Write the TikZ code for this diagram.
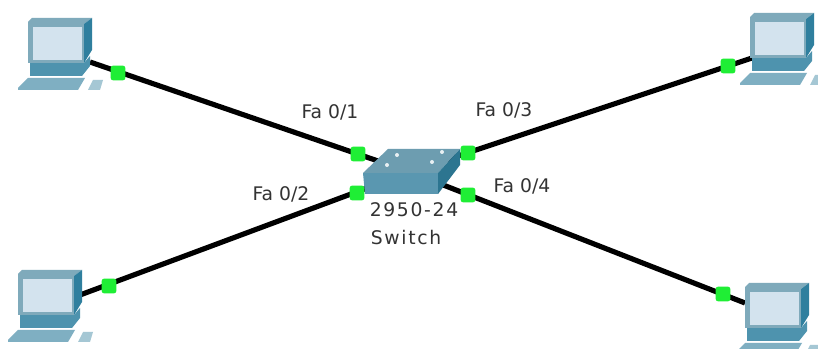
\documentclass[tikz,border=0pt]{standalone}
\usepackage{fontspec}
\setmainfont{DejaVu Sans}
\newfontfamily\devfont[LetterSpace=9]{DejaVu Sans}
\usepackage{xcolor}
\definecolor{pcedge}{HTML}{7FAABB}
\definecolor{pcside}{HTML}{2F7F9E}
\definecolor{pcscreen}{HTML}{D3E3EE}
\definecolor{pcbase}{HTML}{4E93AE}
\definecolor{pckeys}{HTML}{7FAFC2}
\definecolor{swtop}{HTML}{6D9DB0}
\definecolor{swfront}{HTML}{5A97B0}
\definecolor{swside}{HTML}{2C7590}
\definecolor{portgreen}{HTML}{1FEE35}
\definecolor{labelgrey}{HTML}{333333}
\tikzset{
  link/.style={black, line width=4.4pt},
  port/.style={fill=portgreen, rounded corners=2pt, minimum size=12.5pt, inner sep=0pt},
  portlabel/.style={text=labelgrey, font=\fontsize{16}{18}\selectfont, inner sep=0pt},
  devlabel/.style={text=labelgrey, font=\fontsize{16}{18}\selectfont\devfont, inner sep=0pt},
  pics/pcicon/.style={code={
    \fill[pckeys] (-10,70) -- (0,60) -- (57,60) -- (50,72) -- (-10,72) -- cycle;
    \fill[pckeys!70] (60,72) -- (65,62) -- (75,62) -- (72,72) -- cycle;
    \fill[pcbase] (2,45) -- (56,45) -- (62,38) -- (62,48) -- (54,58) -- (2,58) -- cycle;
    \fill[pcedge] (0,4) -- (4,0) -- (64,0) -- (56,6) -- (56,45) -- (0,45) -- cycle;
    \fill[pcside] (56,6) -- (64,0) -- (64,32) -- (56,45) -- cycle;
    \fill[pcscreen] (5,9) -- (54,9) -- (54,42) -- (5,42) -- cycle;
  }},
  pics/switchicon/.style={code={
    \fill[swfront] (-47,1) -- (28,1) -- (28,22) -- (-45,22) -- cycle;
    \fill[swtop] (-47,1) -- (-22,-23) -- (50,-23) -- (28,1) -- cycle;
    \fill[swside] (28,1) -- (50,-23) -- (50,-7) -- (28,22) -- cycle;
    \fill[white!85!swtop] (-13,-17) circle (2);
    \fill[white!85!swtop] (32,-20) circle (2);
    \fill[white!85!swtop] (-23,-7) circle (2);
    \fill[white!85!swtop] (22,-10) circle (2);
  }},
}
\begin{document}
\begin{tikzpicture}[x=0.03cm,y=-0.03cm]
  \useasboundingbox (0,0) rectangle (818,349);
  \clip (0,0) rectangle (818,349);
  \fill[white] (0,0) rectangle (818,349);
  % link ends
  \coordinate (sw) at (410,172);
  \coordinate (pcA) at (90,62);
  \coordinate (pcB) at (80,295);
  \coordinate (pcC) at (752,58);
  \coordinate (pcD) at (745,303);
  % links
  \draw[link] (pcA)--(sw);
  \draw[link] (pcB)--(sw);
  \draw[link] (pcC)--(sw);
  \draw[link] (pcD)--(sw);
  % devices
  \pic at (28,18) {pcicon};
  \pic at (18,270) {pcicon};
  \pic at (750,13) {pcicon};
  \pic at (745,283) {pcicon};
  \pic at (410,172) {switchicon};
  % ports
  \node[port] (pA1) at (118,73) {};
  \node[port] (pA2) at (358,154) {};
  \node[port] (pB1) at (109,286) {};
  \node[port] (pB2) at (357,193) {};
  \node[port] (pC1) at (728,66) {};
  \node[port] (pC2) at (468,153) {};
  \node[port] (pD1) at (723,294) {};
  \node[port] (pD2) at (468,195) {};
  % labels
  \node[portlabel] (fa1) at (330,112) {Fa 0/1};
  \node[portlabel] (fa2) at (281,194) {Fa 0/2};
  \node[portlabel] (fa3) at (504,110) {Fa 0/3};
  \node[portlabel] (fa4) at (522,186) {Fa 0/4};
  \node[devlabel] (model) at (414,210) {2950-24};
  \node[devlabel] (kind) at (406,238) {Switch};
\end{tikzpicture}
\end{document}
